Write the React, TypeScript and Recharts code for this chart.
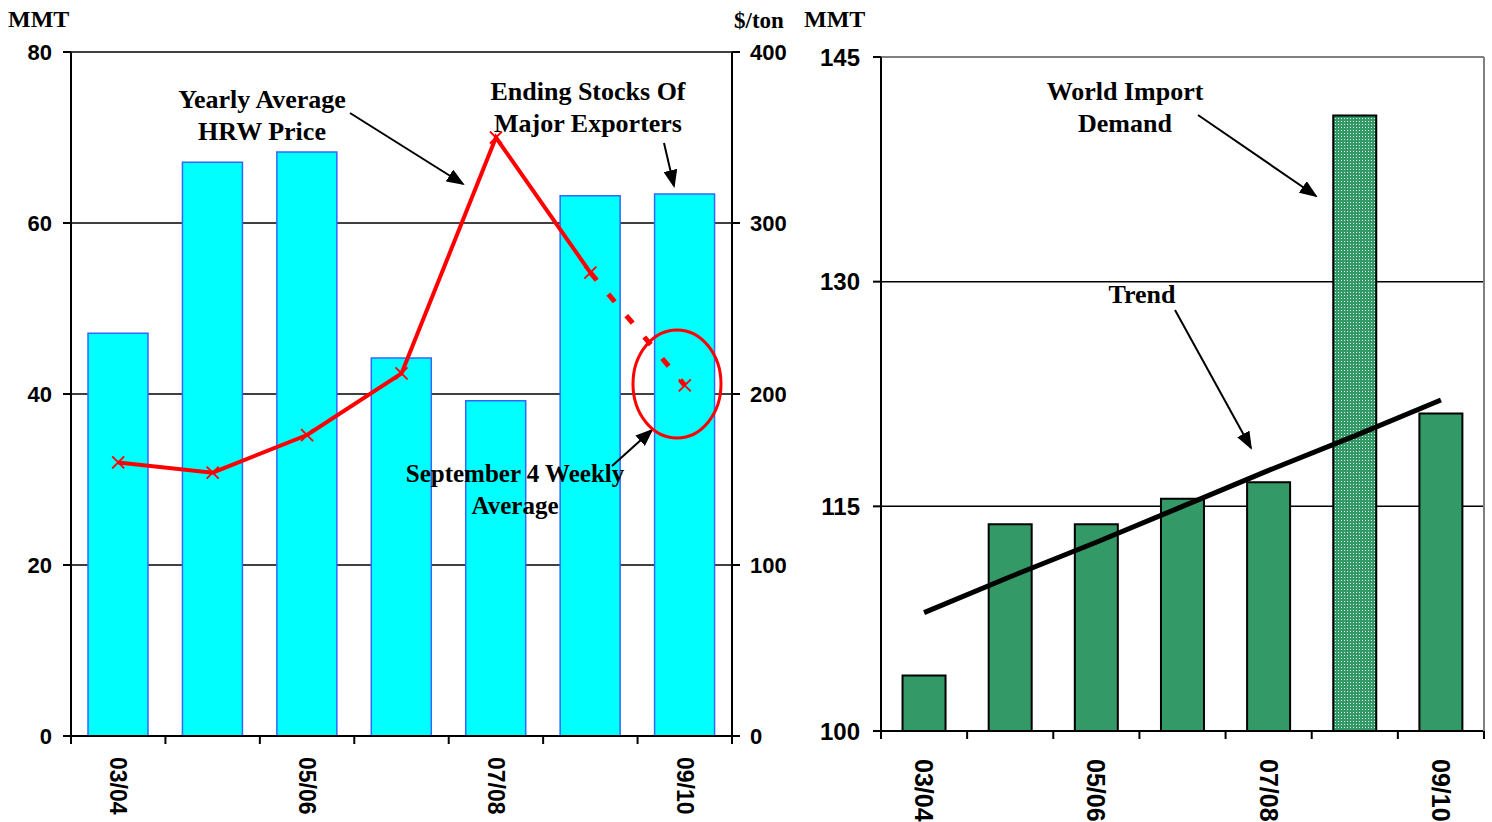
import { Bar, CartesianGrid, Cell, ComposedChart, Line, ReferenceLine, XAxis, YAxis } from 'recharts'

const years = ['03/04', '04/05', '05/06', '06/07', '07/08', '08/09', '09/10']
// MMT, ending stocks of major exporters
const endingStocks = [47.1, 67.1, 68.3, 44.2, 39.2, 63.2, 63.4]
// $/ton, yearly average HRW price (09/10 only has the Sept 4 weekly average)
const hrwPrice = [160, 154, 176, 212, 350, 271]
const septWeeklyPrice = 205
// MMT, world import demand and its trend
const importDemand = [103.7, 113.8, 113.8, 115.5, 116.6, 141.1, 121.2]
const importTrend = [107.9, 110.3, 112.6, 115.0, 117.4, 119.7, 122.1]

const leftTicks = [0, 20, 40, 60, 80]
const priceTicks = [0, 100, 200, 300, 400]
const rightTicks = [100, 115, 130, 145]

const leftData = years.map((year, i) => ({
  year,
  stocks: endingStocks[i],
  price: i < hrwPrice.length ? hrwPrice[i] : null,
  weekly: i === hrwPrice.length - 1 ? hrwPrice[i] : i === years.length - 1 ? septWeeklyPrice : null,
}))

const rightData = years.map((year, i) => ({ year, demand: importDemand[i], trend: importTrend[i] }))

const serif = '"Liberation Serif", "Times New Roman", serif'
const sans = '"Liberation Sans", Arial, sans-serif'

const makeXTick = (band: number, offset: number, fontSize: number) => (props: any) => {
  const { x, y, payload, index } = props
  return (
    <g key={`t-${index}`}>
      <line x1={x - band / 2} y1={y} x2={x - band / 2} y2={y + 8} stroke="#000" strokeWidth={2} />
      {index === years.length - 1 && (
        <line x1={x + band / 2} y1={y} x2={x + band / 2} y2={y + 8} stroke="#000" strokeWidth={2} />
      )}
      {index % 2 === 0 && (
        <text
          transform={`translate(${x},${y + offset}) rotate(90)`}
          textAnchor="start"
          dominantBaseline="central"
          fontFamily={sans}
          fontWeight="bold"
          fontSize={fontSize}
          fill="#000"
        >
          {payload.value}
        </text>
      )}
    </g>
  )
}

const crossDot = (props: any) => {
  const { cx, cy, index, value } = props
  if (value == null || cx == null || cy == null) return <g key={`d-${index}`} />
  const s = 6
  return (
    <path
      key={`d-${index}`}
      d={`M${cx - s},${cy - s}L${cx + s},${cy + s}M${cx - s},${cy + s}L${cx + s},${cy - s}`}
      stroke="#FF0000"
      strokeWidth={1.8}
      fill="none"
    />
  )
}

const weeklyDot = (props: any) => {
  if (props.index !== years.length - 1) return <g key={`w-${props.index}`} />
  return crossDot(props)
}

const tickStyle = (size: number) => ({ fill: '#000', fontSize: size, fontWeight: 'bold', fontFamily: sans })

const Label = ({ x, y, lines, size = 26, anchor = 'middle' }: any) => (
  <text x={x} y={y} textAnchor={anchor} fontFamily={serif} fontWeight="bold" fontSize={size} fill="#000">
    {lines.map((l: string, i: number) => (
      <tspan key={i} x={x} dy={i === 0 ? 0 : 32}>
        {l}
      </tspan>
    ))}
  </text>
)

const Arrow = ({ x1, y1, x2, y2 }: any) => (
  <line x1={x1} y1={y1} x2={x2} y2={y2} stroke="#000" strokeWidth={2} markerEnd="url(#arrowHead)" />
)

const App = () => {
  return (
    <div style={{ position: 'absolute', left: 0, top: 0, width: 1492, height: 822, background: '#fff' }}>
      <div style={{ position: 'absolute', left: 0, top: 0 }}>
        <ComposedChart width={800} height={822} data={leftData} margin={{ top: 52, right: 0, left: 0, bottom: 0 }} barCategoryGap="18%">
          <CartesianGrid yAxisId="mmt" vertical={false} stroke="#000" strokeWidth={1.5} />
          <XAxis
            dataKey="year"
            height={86}
            interval={0}
            tickLine={false}
            tickSize={0}
            tickMargin={0}
            axisLine={{ stroke: '#000', strokeWidth: 2 }}
            tick={makeXTick((732 - 71) / 7, 21, 23)}
          />
          <YAxis
            yAxisId="mmt"
            width={71}
            domain={[0, 80]}
            ticks={leftTicks}
            tickSize={8}
            tickMargin={11}
            tick={tickStyle(22)}
            axisLine={{ stroke: '#000', strokeWidth: 2 }}
            tickLine={{ stroke: '#000', strokeWidth: 2 }}
          />
          <YAxis
            yAxisId="price"
            orientation="right"
            width={68}
            domain={[0, 400]}
            ticks={priceTicks}
            tickSize={8}
            tickMargin={10}
            tick={{ ...tickStyle(22), textAnchor: 'start' }}
            axisLine={{ stroke: '#000', strokeWidth: 2 }}
            tickLine={{ stroke: '#000', strokeWidth: 2 }}
          />
          <Bar yAxisId="mmt" dataKey="stocks" fill="#00FFFF" stroke="#3366FF" strokeWidth={1.5} isAnimationActive={false} />
          <Line
            yAxisId="price"
            dataKey="weekly"
            type="linear"
            stroke="#FF0000"
            strokeWidth={5}
            strokeDasharray="10 18"
            dot={weeklyDot}
            activeDot={false}
            isAnimationActive={false}
          />
          <Line
            yAxisId="price"
            dataKey="price"
            type="linear"
            stroke="#FF0000"
            strokeWidth={4}
            dot={crossDot}
            activeDot={false}
            isAnimationActive={false}
          />
        </ComposedChart>
      </div>
      <div style={{ position: 'absolute', left: 800, top: 0 }}>
        <ComposedChart width={692} height={822} data={rightData} margin={{ top: 57, right: 0, left: 0, bottom: 0 }} barCategoryGap="25%">
          <defs>
            <pattern id="dots" width="3" height="3" patternUnits="userSpaceOnUse">
              <rect width="3" height="3" fill="#339966" />
              <rect x="1" y="1" width="1" height="1" fill="#ffffff" fillOpacity={0.85} />
            </pattern>
          </defs>
          <CartesianGrid yAxisId="demand" vertical={false} stroke="#000" strokeWidth={1.5} />
          <XAxis
            dataKey="year"
            height={91}
            interval={0}
            tickLine={false}
            tickSize={0}
            tickMargin={0}
            axisLine={{ stroke: '#000', strokeWidth: 2 }}
            tick={makeXTick((1484 - 881) / 7, 28, 25)}
          />
          <YAxis
            yAxisId="demand"
            width={81}
            domain={[100, 145]}
            ticks={rightTicks}
            tickSize={8}
            tickMargin={13}
            tick={tickStyle(24)}
            axisLine={{ stroke: '#000', strokeWidth: 2 }}
            tickLine={{ stroke: '#000', strokeWidth: 2 }}
          />
          <YAxis
            yAxisId="frame"
            orientation="right"
            width={8}
            domain={[100, 145]}
            tick={false}
            tickLine={false}
            axisLine={{ stroke: '#808080', strokeWidth: 2 }}
          />
          <ReferenceLine yAxisId="demand" y={145} stroke="#808080" strokeWidth={2} />
          <Bar yAxisId="demand" dataKey="demand" fill="#339966" stroke="#000" strokeWidth={2} isAnimationActive={false}>
            {rightData.map((_, i) => (
              <Cell key={i} fill={i === 5 ? 'url(#dots)' : '#339966'} />
            ))}
          </Bar>
          <Line
            yAxisId="demand"
            dataKey="trend"
            type="linear"
            stroke="#000"
            strokeWidth={5}
            dot={false}
            activeDot={false}
            isAnimationActive={false}
          />
        </ComposedChart>
      </div>
      <svg width={1492} height={822} style={{ position: 'absolute', left: 0, top: 0, pointerEvents: 'none' }}>
        <defs>
          <marker id="arrowHead" markerWidth="18" markerHeight="14" refX="16" refY="7" orient="auto" markerUnits="userSpaceOnUse">
            <path d="M0,0 L18,7 L0,14 Z" fill="#000" />
          </marker>
        </defs>
        <Label x={8} y={27} lines={['MMT']} size={24} anchor="start" />
        <Label x={734} y={28} lines={['$/ton']} size={23} anchor="start" />
        <Label x={804} y={27} lines={['MMT']} size={24} anchor="start" />
        <Label x={262} y={108} lines={['Yearly Average', 'HRW Price']} />
        <Label x={588} y={100} lines={['Ending Stocks Of', 'Major Exporters']} />
        <Label x={515} y={482} lines={['September 4 Weekly', 'Average']} size={25} />
        <Label x={1125} y={100} lines={['World Import', 'Demand']} />
        <Label x={1142} y={303} lines={['Trend']} />
        <Arrow x1={350} y1={113} x2={463} y2={184} />
        <Arrow x1={664} y1={143} x2={674} y2={186} />
        <Arrow x1={612} y1={466} x2={652} y2={430} />
        <Arrow x1={1198} y1={115} x2={1316} y2={196} />
        <Arrow x1={1175} y1={310} x2={1251} y2={448} />
        <ellipse cx={677} cy={384} rx={44} ry={54} fill="none" stroke="#FF0000" strokeWidth={3} />
      </svg>
    </div>
  )
}

export default App
